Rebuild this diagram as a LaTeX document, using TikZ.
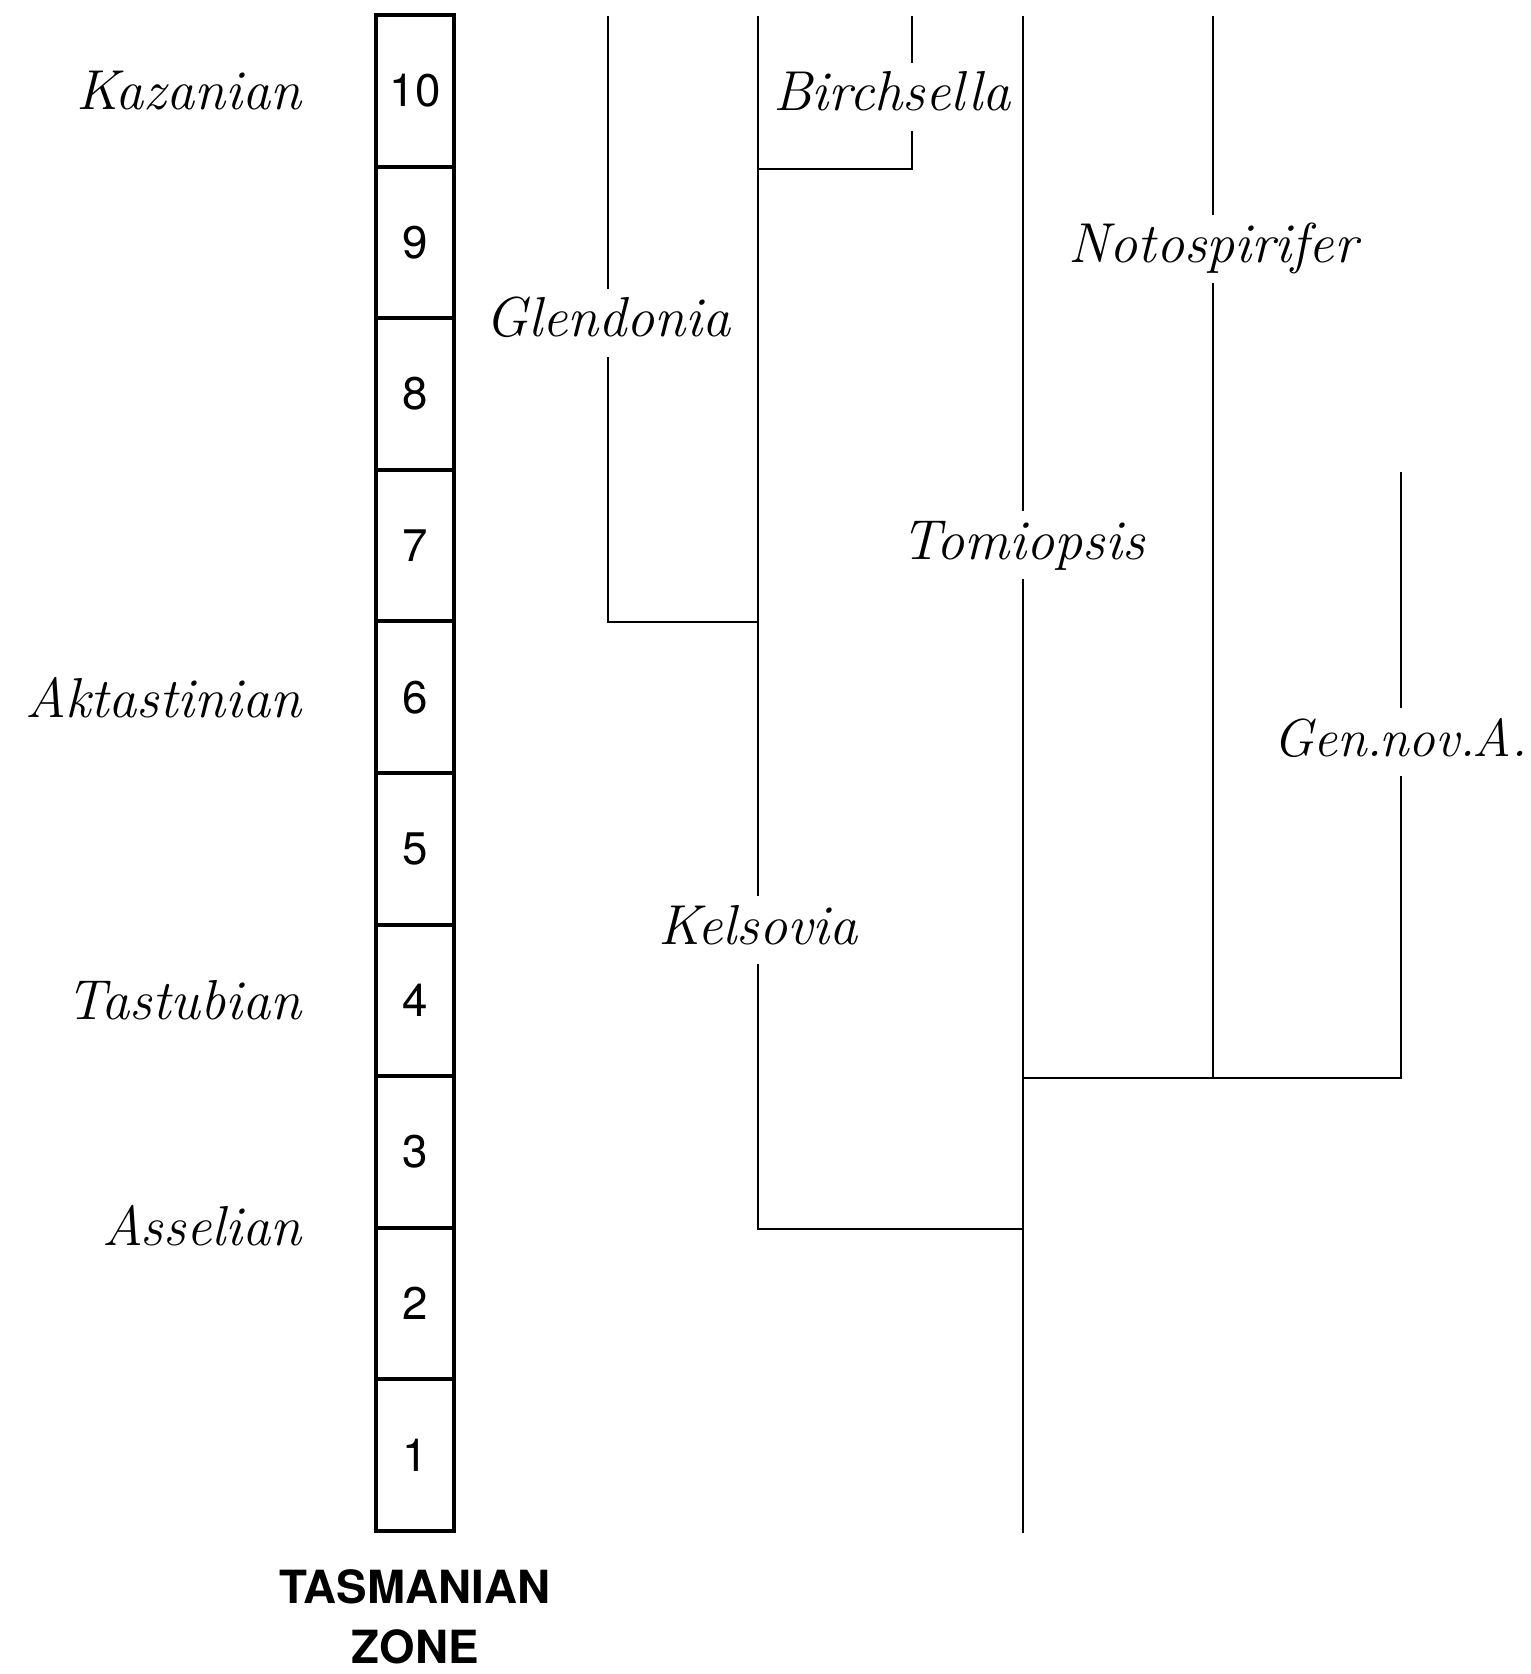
\documentclass[tikz,border=0pt]{standalone}
\usepackage{fontspec}
\newfontfamily\zonefont{TeX Gyre Heros}
\usepackage{tikz}
\usetikzlibrary{positioning}
\tikzset{
	cell/.style={draw, line width=1.1pt, minimum width=0.78cm, minimum height=1.516cm, inner sep=0pt, font=\zonefont\fontsize{13}{15}\selectfont},
	stage/.style={inner sep=0pt, font=\fontsize{16}{19}\selectfont\itshape},
	taxon/.style={inner xsep=0pt, inner ysep=0.075cm, text height=0.4cm, text depth=0.12cm, font=\fontsize{16}{19}\selectfont\itshape},
	branch/.style={line width=0.7pt},
}

\begin{document}
\begin{tikzpicture}[x=0.01cm,y=-0.01cm]
			\useasboundingbox (0,0) rectangle (1530,1674);
			% zone column
			\foreach \i in {1,...,10}
				\node[cell] (z\i) at (415,{1531-151.6*(\i-0.5)}) {\i};
			\node[below=0.24cm of z1, align=center, font=\zonefont\bfseries\fontsize{13}{17.2}\selectfont] (title) {TASMANIAN\\ZONE};
			\node[stage, left=0.72cm of z10] (kazanian) {Kazanian};
			\node[stage, left=0.72cm of z6] (aktastinian) {Aktastinian};
			\node[stage, left=0.72cm of z4] (tastubian) {Tastubian};
			\node[stage, left=0.72cm of z2.north west] (asselian) {Asselian};
			% genera
			\node[taxon] (glendonia) at (608,323) {Glendonia};
			\node[taxon] (kelsovia) at (758,930) {Kelsovia};
			\node[taxon] (birchsella) at (892,97) {Birchsella};
			\node[taxon] (tomiopsis) at (1023,545) {Tomiopsis};
			\node[taxon] (notospirifer) at (1213,249) {Notospirifer};
			\node[taxon, font=\fontsize{15.2}{18}\selectfont\itshape] (gennov) at (1400,742) {Gen.\kern-1pt nov.\kern-1pt A.};
			\coordinate (glendonia-top) at (608,16);
			\coordinate (glendonia-base) at (608,622);
			\coordinate (kelsovia-top) at (758,16);
			\coordinate (kelsovia-base) at (758,1229);
			\coordinate (birchsella-top) at (912,16);
			\coordinate (birchsella-base) at (912,169);
			\coordinate (tomiopsis-top) at (1023,16);
			\coordinate (tomiopsis-base) at (1023,1533);
			\coordinate (notospirifer-top) at (1213,16);
			\coordinate (notospirifer-base) at (1213,1078);
			\coordinate (gennov-top) at (1401,472);
			\coordinate (gennov-base) at (1401,1078);
			% branches
			\draw[branch] (glendonia-top) -- (glendonia);
			\draw[branch] (glendonia) -- (glendonia-base) -- (kelsovia-top |- glendonia-base);
			\draw[branch] (kelsovia-top) -- (kelsovia);
			\draw[branch] (kelsovia) -- (kelsovia-base) -- (tomiopsis-top |- kelsovia-base);
			\draw[branch] (birchsella-top) -- (birchsella-top |- birchsella.north);
			\draw[branch] (birchsella-top |- birchsella.south) -- (birchsella-base) -- (kelsovia-top |- birchsella-base);
			\draw[branch] (tomiopsis-top) -- (tomiopsis);
			\draw[branch] (tomiopsis) -- (tomiopsis-base);
			\draw[branch] (notospirifer-top) -- (notospirifer);
			\draw[branch] (notospirifer) -- (notospirifer-base);
			\draw[branch] (gennov-top) -- (gennov-top |- gennov.north);
			\draw[branch] (gennov-top |- gennov.south) -- (gennov-base) -- (tomiopsis-top |- gennov-base);
\end{tikzpicture}
\end{document}
